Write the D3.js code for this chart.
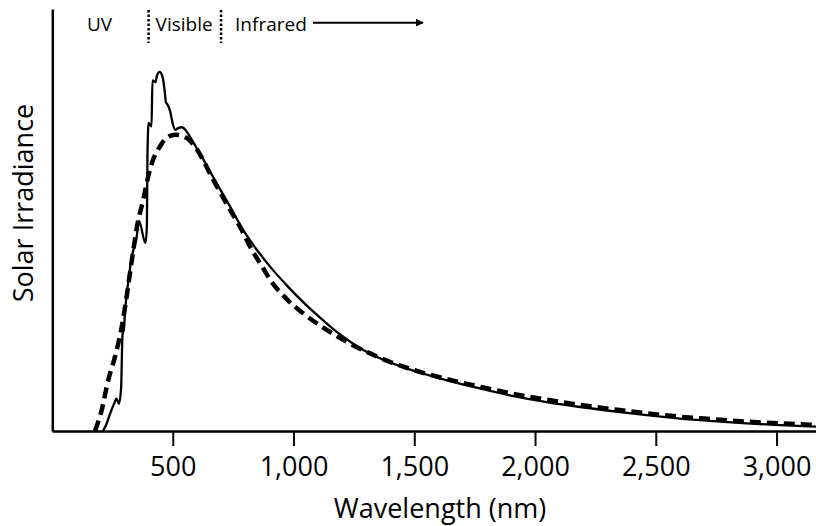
<!DOCTYPE html>
<html>
<head>
<meta charset="utf-8">
<script src="https://cdn.jsdelivr.net/npm/d3@7"></script>
<style>
  body { margin: 0; background: #fff; }
  svg { display: block; font-family: "Open Sans", sans-serif; }
</style>
</head>
<body>
<svg id="chart"></svg>
<script>
// measured solar spectrum (solid) and 5800 K blackbody (dashed), read off the figure
// [wavelength nm, relative irradiance]
const measured = [
  [211, 0], [224, 0.035], [240, 0.10], [257, 0.16], [267, 0.19], [277, 0.16],
  [286, 0.25], [292, 0.565], [298, 0.60], [302, 0.69], [316, 0.88], [330, 1.02],
  [340, 1.08], [350, 1.135], [360, 1.235], [387, 1.105], [393, 1.21], [395, 1.595],
  [400, 1.81], [412, 1.79], [416, 2.06], [429, 2.05], [433, 2.08], [445, 2.11],
  [458, 2.08], [466, 2.005], [472, 1.93], [478, 1.92], [489, 1.88], [501, 1.80],
  [511, 1.77], [522, 1.78], [538, 1.785], [555, 1.765], [571, 1.73], [600, 1.66],
  [627, 1.595], [682, 1.455], [737, 1.32], [792, 1.18], [848, 1.065], [903, 0.966],
  [972, 0.856], [1041, 0.756], [1110, 0.666], [1179, 0.582], [1289, 0.476], [1370, 0.42],
  [1455, 0.374], [1565, 0.326], [1772, 0.25], [1910, 0.205], [2048, 0.17], [2186, 0.141],
  [2324, 0.116], [2462, 0.093], [2600, 0.073], [2738, 0.058], [2876, 0.045], [3014, 0.035],
  [3170, 0.025]
];

const blackbody = [
  [178, 0], [206, 0.124], [233, 0.30], [261, 0.437], [289, 0.614], [309, 0.79],
  [323, 0.929], [337, 1.065], [351, 1.194], [378, 1.36], [399, 1.50], [420, 1.60],
  [447, 1.672], [476, 1.725], [512, 1.741], [558, 1.722], [592, 1.671], [668, 1.476],
  [737, 1.30], [778, 1.202], [820, 1.084], [875, 0.955], [903, 0.89], [972, 0.775],
  [1041, 0.69], [1110, 0.62], [1179, 0.558], [1248, 0.503], [1317, 0.456], [1386, 0.414],
  [1455, 0.378], [1537, 0.342], [1634, 0.305], [1772, 0.26], [1910, 0.218], [2048, 0.184],
  [2186, 0.153], [2324, 0.128], [2462, 0.104], [2600, 0.084], [2738, 0.069], [2876, 0.055],
  [3014, 0.045], [3170, 0.035]
];

const xTicks = [500, 1000, 1500, 2000, 2500, 3000];
const bandEdges = [400, 700];   // UV | Visible | Infrared
const bandLabels = ['UV', 'Visible', 'Infrared'];

const width = 816;
const height = 526;
const axisY = 431;

const svg = d3.select('#chart')
    .attr('width', width)
    .attr('height', height);

const xScale = d3.scaleLinear()
    .domain([0, 3170])
    .range([52, 817.6]);

const yScale = d3.scaleLinear()
    .domain([0, 2.48])
    .range([axisY, 9]);

// axes
const xAxis = d3.axisBottom(xScale)
    .tickValues(xTicks)
    .tickFormat(d3.format(','))
    .tickSize(15)
    .tickSizeOuter(0);

const gx = svg.append('g')
    .attr('transform', `translate(0,${axisY})`)
    .call(xAxis);

gx.select('.domain').attr('stroke', '#000').attr('stroke-width', 2.5);
gx.selectAll('.tick line').attr('stroke', '#000').attr('stroke-width', 2);
gx.selectAll('.tick text')
    .attr('y', 45)
    .attr('dy', null)
    .attr('fill', '#000')
    .style('font-family', '"Open Sans", sans-serif')
    .style('font-size', '27px');

const yAxis = d3.axisLeft(yScale).tickValues([]).tickSizeOuter(0);
svg.append('g')
    .attr('transform', 'translate(52.3,0)')
    .call(yAxis)
    .select('.domain')
    .attr('stroke', '#000')
    .attr('stroke-width', 2.5);

svg.append('text')
    .attr('x', 440)
    .attr('y', 518)
    .attr('text-anchor', 'middle')
    .style('font-size', '27px')
    .text('Wavelength (nm)');

svg.append('text')
    .attr('transform', 'translate(33,203) rotate(-90)')
    .attr('text-anchor', 'middle')
    .style('font-size', '27px')
    .text('Solar Irradiance');

// curves
const line = d3.line()
    .x(d => xScale(d[0]))
    .y(d => yScale(d[1]))
    .curve(d3.curveMonotoneX);

svg.append('path')
    .datum(measured)
    .attr('fill', 'none')
    .attr('stroke', '#000')
    .attr('stroke-width', 2.3)
    .attr('stroke-linejoin', 'round')
    .attr('d', line);

svg.append('path')
    .datum(blackbody)
    .attr('fill', 'none')
    .attr('stroke', '#000')
    .attr('stroke-width', 4.5)
    .attr('stroke-dasharray', '11,6')
    .attr('d', line);

// band markers along the top
svg.selectAll('.band-edge')
    .data(bandEdges)
    .join('line')
    .attr('class', 'band-edge')
    .attr('x1', d => xScale(d))
    .attr('x2', d => xScale(d))
    .attr('y1', 10)
    .attr('y2', 43)
    .attr('stroke', '#000')
    .attr('stroke-width', 2.5)
    .attr('stroke-dasharray', '2.5,2');

const labelX = [87, xScale(400) + 7, xScale(700) + 14];
svg.selectAll('.band-label')
    .data(bandLabels)
    .join('text')
    .attr('class', 'band-label')
    .attr('x', (d, i) => labelX[i])
    .attr('y', 31)
    .style('font-size', '19px')
    .text(d => d);

svg.append('defs')
    .append('marker')
    .attr('id', 'arrow')
    .attr('viewBox', '0 0 10 10')
    .attr('refX', 9)
    .attr('refY', 5)
    .attr('markerWidth', 4)
    .attr('markerHeight', 4)
    .attr('orient', 'auto')
    .append('path')
    .attr('d', 'M0,0L10,5L0,10z')
    .attr('fill', '#000');

svg.append('line')
    .attr('x1', 313)
    .attr('x2', 423)
    .attr('y1', 22.7)
    .attr('y2', 22.7)
    .attr('stroke', '#000')
    .attr('stroke-width', 2)
    .attr('marker-end', 'url(#arrow)');
</script>
</body>
</html>
